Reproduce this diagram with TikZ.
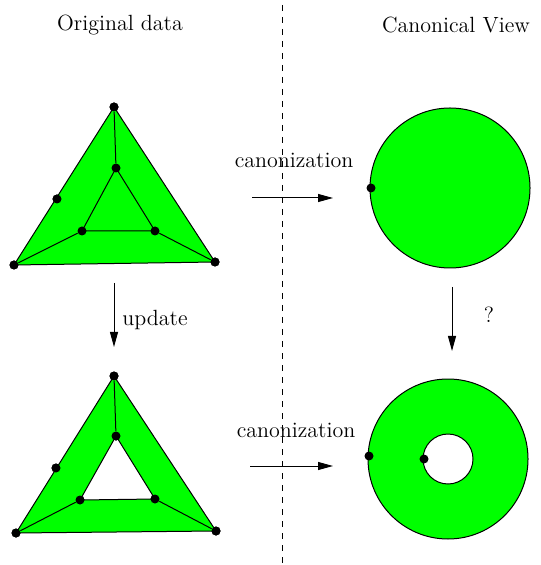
\documentclass[tikz,border=0pt]{standalone}
\usepackage{tikz}
\usetikzlibrary{arrows.meta,positioning}
\definecolor{meshgreen}{HTML}{00FF00}

\begin{document}
\begin{tikzpicture}[x=0.5pt, y=-0.5pt,
  vtx/.style={circle, fill=black, inner sep=0pt, minimum size=4.5pt},
  edge/.style={line width=0.5pt},
  mapto/.style={-{Triangle[length=7.5pt, width=4pt]}, line width=0.5pt},
  lbl/.style={font=\fontsize{11}{13}\selectfont},
]
  \useasboundingbox (0,0) rectangle (540,565);

  % separator and titles
  \coordinate (septop) at (282,5);
  \coordinate (sepbot) at (282,565);
  \draw[dashed, dash pattern=on 3pt off 3pt, line width=0.5pt] (septop) -- (sepbot);
  \node[lbl] (orig) at (120,25) {Original data};
  \node[lbl] (canon) at (456,25) {Canonical View};

  % original mesh
  \node[vtx] (a1) at (114,107) {};
  \node[vtx] (b1) at (14,265) {};
  \node[vtx] (c1) at (215,262) {};
  \node[vtx] (p1) at (116,168) {};
  \node[vtx] (q1) at (82,231) {};
  \node[vtx] (r1) at (155,231) {};
  \node[vtx] (m1) at (57,199) {};
  \fill[meshgreen] (a1.center) -- (b1.center) -- (c1.center) -- cycle;
  \draw[edge] (a1.center) -- (b1.center) -- (c1.center) -- cycle;
  \draw[edge] (p1.center) -- (q1.center) -- (r1.center) -- cycle;
  \draw[edge] (a1) -- (p1) (b1) -- (q1) (c1) -- (r1);
  \foreach \v in {a1,b1,c1,p1,q1,r1,m1} \node[vtx] at (\v) {};

  % updated mesh
  \node[vtx] (a2) at (114,376) {};
  \node[vtx] (b2) at (16,533) {};
  \node[vtx] (c2) at (216,531) {};
  \node[vtx] (p2) at (116,436) {};
  \node[vtx] (q2) at (80,500) {};
  \node[vtx] (r2) at (155,499) {};
  \node[vtx] (m2) at (56,468) {};
  \fill[meshgreen, even odd rule] (a2.center) -- (b2.center) -- (c2.center) -- cycle
    (p2.center) -- (q2.center) -- (r2.center) -- cycle;
  \draw[edge] (a2.center) -- (b2.center) -- (c2.center) -- cycle;
  \draw[edge] (p2.center) -- (q2.center) -- (r2.center) -- cycle;
  \draw[edge] (a2) -- (p2) (b2) -- (q2) (c2) -- (r2);
  \foreach \v in {a2,b2,c2,p2,q2,r2,m2} \node[vtx] at (\v) {};

  % canonical views
  \coordinate (disk) at (450,188);
  \draw[edge, fill=meshgreen] (disk) circle[radius=80];
  \node[vtx] (d1) at (371,188) {};

  \coordinate (ring) at (448,459);
  \draw[edge, fill=meshgreen, even odd rule] (ring) circle[radius=80] (ring) circle[radius=25];
  \node[vtx] (d2) at (369,456) {};
  \node[vtx] (d3) at (424,459) {};

  % maps
  \coordinate (ct1) at (252,198);
  \coordinate (ch1) at (333,198);
  \draw[mapto] (ct1) -- (ch1);
  \node[lbl] (cz1) at (294,160) {canonization};
  \coordinate (ct2) at (250,466);
  \coordinate (ch2) at (333,466);
  \draw[mapto] (ct2) -- (ch2);
  \node[lbl] (cz2) at (296,430) {canonization};

  \coordinate (ut) at (114,283);
  \coordinate (uh) at (114,347);
  \draw[mapto] (ut) -- (uh);
  \node[lbl] (upd) at (155,320) {update};
  \coordinate (qt) at (452,287);
  \coordinate (qh) at (452,351);
  \draw[mapto] (qt) -- (qh);
  \node[lbl] (qm) at (489,315) {?};
\end{tikzpicture}
\end{document}
